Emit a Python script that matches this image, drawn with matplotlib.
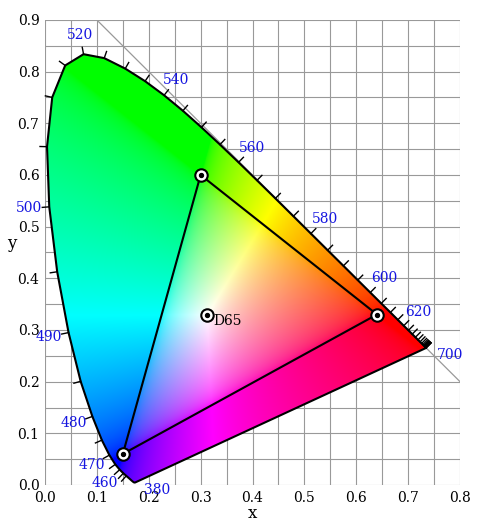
import numpy as np
import matplotlib
matplotlib.use("Agg")
import matplotlib.pyplot as plt
from matplotlib.patches import Polygon

plt.rcParams['font.family'] = 'DejaVu Serif'

# CIE 1931 2 deg spectral locus, 5 nm steps
wl = list(range(380, 705, 5))
loc_x = [0.1741, 0.1740, 0.1738, 0.1736, 0.1733, 0.1730, 0.1726, 0.1721, 0.1714, 0.1703,
         0.1689, 0.1669, 0.1644, 0.1611, 0.1566, 0.1510, 0.1440, 0.1355, 0.1241, 0.1096,
         0.0913, 0.0687, 0.0454, 0.0235, 0.0082, 0.0039, 0.0139, 0.0389, 0.0743, 0.1142,
         0.1547, 0.1929, 0.2296, 0.2658, 0.3016, 0.3373, 0.3731, 0.4087, 0.4441, 0.4788,
         0.5125, 0.5448, 0.5752, 0.6029, 0.6270, 0.6482, 0.6658, 0.6801, 0.6915, 0.7006,
         0.7079, 0.7140, 0.7190, 0.7230, 0.7260, 0.7283, 0.7300, 0.7311, 0.7320, 0.7327,
         0.7334, 0.7340, 0.7344, 0.7346, 0.7347]
loc_y = [0.0050, 0.0050, 0.0049, 0.0049, 0.0048, 0.0048, 0.0048, 0.0048, 0.0051, 0.0058,
         0.0069, 0.0086, 0.0109, 0.0138, 0.0177, 0.0227, 0.0297, 0.0399, 0.0578, 0.0868,
         0.1327, 0.2007, 0.2950, 0.4127, 0.5384, 0.6548, 0.7502, 0.8120, 0.8338, 0.8262,
         0.8059, 0.7816, 0.7543, 0.7243, 0.6923, 0.6589, 0.6245, 0.5896, 0.5547, 0.5202,
         0.4866, 0.4544, 0.4242, 0.3965, 0.3725, 0.3514, 0.3340, 0.3197, 0.3083, 0.2993,
         0.2920, 0.2859, 0.2809, 0.2770, 0.2740, 0.2717, 0.2700, 0.2689, 0.2680, 0.2673,
         0.2666, 0.2660, 0.2656, 0.2654, 0.2653]
label_wl = [380, 460, 470, 480, 490, 500, 520, 540, 560, 580, 600, 620, 700]

# sRGB primaries and white point
prim_x = [0.64, 0.30, 0.15]
prim_y = [0.33, 0.60, 0.06]
d65 = (0.3127, 0.3290)

fig = plt.figure(figsize=(4.8, 5.3), dpi=100)
ax = fig.add_axes([45 / 480, 45 / 530, 415 / 480, 465 / 530])
ax.set_xlim(0, 0.8)
ax.set_ylim(0, 0.9)

# colour fill
n = 400
gx, gy = np.meshgrid(np.linspace(0, 0.8, n), np.linspace(0, 0.9, n))
gy_safe = np.where(gy < 1e-4, 1e-4, gy)
X = gx / gy_safe
Z = (1 - gx - gy) / gy_safe
Y = np.ones_like(X)
M = np.array([[3.2406, -1.5372, -0.4986],
              [-0.9689, 1.8758, 0.0415],
              [0.0557, -0.2040, 1.0570]])
rgb = np.einsum('ij,jkl->kli', M, np.array([X, Y, Z]))
rgb = np.clip(rgb, 0, None)
rgb = rgb / np.maximum(rgb.max(axis=2, keepdims=True), 1e-9)
rgb = np.where(rgb <= 0.0031308, 12.92 * rgb, 1.055 * rgb ** (1 / 2.4) - 0.055)
im = ax.imshow(rgb, origin='lower', extent=(0, 0.8, 0, 0.9), aspect='auto',
               interpolation='bilinear', zorder=1)
poly = Polygon(np.column_stack([loc_x, loc_y]), closed=True, facecolor='none',
               edgecolor='black', lw=1.5, joinstyle='round', zorder=4)
ax.add_patch(poly)
im.set_clip_path(poly)

# grid
for v in np.arange(0, 0.81, 0.05):
    ax.axvline(v, color='#999999', lw=0.8, zorder=0)
for v in np.arange(0, 0.91, 0.05):
    ax.axhline(v, color='#999999', lw=0.8, zorder=0)
ax.plot([0.1, 0.8], [0.9, 0.2], color='#999999', lw=0.9, zorder=2)

# wavelength ticks and labels (normals pointing outward)
px = np.array(loc_x)
py = np.array(loc_y)
sx, sy = 415 / 0.8, 465 / 0.9


def normal(i):
    j0, j1 = max(i - 1, 0), min(i + 1, len(wl) - 1)
    dx = (px[j1] - px[j0]) * sx
    dy = (py[j1] - py[j0]) * sy
    L = np.hypot(dx, dy)
    if L == 0:
        return None
    return -dy / L, dx / L


for i, w in enumerate(wl):
    if w < 450:
        continue
    nv = normal(i)
    if nv is None:
        continue
    t = 7
    ax.plot([px[i], px[i] + nv[0] * t / sx], [py[i], py[i] + nv[1] * t / sy],
            color='black', lw=1, zorder=4, clip_on=False)
for w in label_wl:
    i = wl.index(w)
    if w == 380:
        nx, ny, d = 1.0, -0.35, 22
    elif w == 700:
        nx, ny, d = 1.0, -0.3, 24
    else:
        nx, ny = normal(i)
        d = 20
    ax.text(px[i] + nx * d / sx, py[i] + ny * d / sy, str(w), color='#1515e0',
            fontsize=10, ha='center', va='center', zorder=5, clip_on=False)

# gamut triangle
tri_x = prim_x + [prim_x[0]]
tri_y = prim_y + [prim_y[0]]
ax.plot(tri_x, tri_y, color='black', lw=1.5, zorder=5)
ax.scatter(prim_x + [d65[0]], prim_y + [d65[1]], s=80, facecolor='white',
           edgecolor='black', lw=1.5, zorder=6)
ax.scatter(prim_x + [d65[0]], prim_y + [d65[1]], s=8, color='black', zorder=7)
ax.text(d65[0] + 0.012, d65[1] - 0.012, 'D65', fontsize=10, va='center', zorder=7)

ax.set_xticks(np.arange(0, 0.81, 0.1))
ax.set_yticks(np.arange(0, 0.91, 0.1))
ax.set_xticklabels([f'{v:.1f}' for v in np.arange(0, 0.81, 0.1)])
ax.set_yticklabels([f'{v:.1f}' for v in np.arange(0, 0.91, 0.1)])
ax.tick_params(length=0, labelsize=10, pad=4)
for s in ax.spines.values():
    s.set_visible(False)
ax.set_xlabel('x', fontsize=12, labelpad=0)
ax.set_ylabel('y', fontsize=12, rotation=0, labelpad=4)

fig.savefig('out.png', dpi=100)
